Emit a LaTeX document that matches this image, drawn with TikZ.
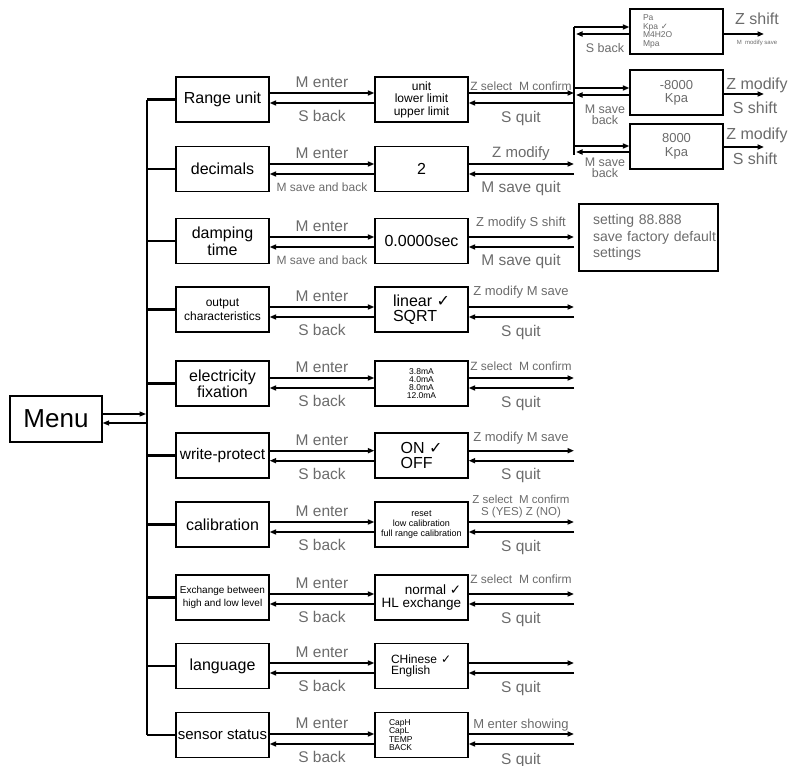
\documentclass[tikz,border=0pt]{standalone}
\usepackage{fontspec}
\setmainfont{Liberation Sans}
\newfontfamily\symf{DejaVu Sans}
\usetikzlibrary{arrows.meta}
\definecolor{lg}{gray}{0.42}
\newcommand\fsz[2]{\fontsize{#1pt}{#2pt}\selectfont}
\newcommand\chk{{\symf ✓}}
\begin{document}
\begin{tikzpicture}[x=1pt,y=-1pt,
 box/.style={draw, line width=1.3pt, minimum width=93pt, minimum height=45pt, inner sep=1pt, align=center},
 arr/.style={line width=1.7pt, -{Triangle[length=6.5pt,width=5pt]}},
 busl/.style={line width=2.3pt},
 lbl/.style={text=lg, inner sep=0pt, anchor=base},
 lblc/.style={text=lg, inner sep=0pt, align=center},
 lbig/.style={lbl, font=\fsz{15.5}{18}},
 lsm/.style={lbl, font=\fsz{12}{14}},
 lmd/.style={lbl, font=\fsz{13}{15}},
]
\useasboundingbox (0,0) rectangle (788,766);

% menu
\node[box, minimum width=92pt, minimum height=46pt, font=\fsz{26}{30}] (menu) at (56,419) {Menu};

% first column
\node[box, font=\fsz{16}{18}] (a1) at (222.5,99.5) {Range unit};
\node[box, font=\fsz{16}{18}] (a2) at (222.5,169) {decimals};
\node[box, font=\fsz{16}{17}] (a3) at (222.5,241) {damping\\time};
\node[box, font=\fsz{12}{14}] (a4) at (222.5,309.5) {output\\characteristics};
\node[box, font=\fsz{16}{16}] (a5) at (222.5,383.5) {electricity\\fixation};
\node[box, font=\fsz{15.5}{18}] (a6) at (222.5,455.5) {write-protect};
\node[box, font=\fsz{16}{18}] (a7) at (222.5,524.5) {calibration};
\node[box, font=\fsz{10}{12.5}] (a8) at (222.5,597.5) {Exchange between\\high and low level};
\node[box, font=\fsz{16}{18}] (a9) at (222.5,666) {language};
\node[box, font=\fsz{15}{18}] (a10) at (222.5,735) {sensor status};

% second column
\node[box, font=\fsz{12}{12.5}] (b1) at (421.5,99.5) {unit\\lower limit\\upper limit};
\node[box, font=\fsz{16}{18}] (b2) at (421.5,169) {2};
\node[box, font=\fsz{16}{18}] (b3) at (421.5,241) {0.0000sec};
\node[box, align=left, font=\fsz{16}{15}] (b4) at (421.5,309.5) {linear \chk\\SQRT};
\node[box, font=\fsz{8.5}{8}] (b5) at (421.5,383.5) {3.8mA\\4.0mA\\8.0mA\\12.0mA};
\node[box, align=left, font=\fsz{16}{15}] (b6) at (421.5,455.5) {ON \chk\\OFF};
\node[box, font=\fsz{9}{10}] (b7) at (421.5,524.5) {reset\\low calibration\\full range calibration};
\node[box, align=right, font=\fsz{13.5}{13}] (b8) at (421.5,597.5) {normal \chk\\HL exchange};
\node[box, align=left, text width=61pt, inner xsep=16pt, font=\fsz{12}{11.5}] (b9) at (421.5,666) {CHinese \chk\\English};
\node[box, align=left, text width=65pt, inner xsep=14pt, font=\fsz{8.5}{8.3}] (b10) at (421.5,735) {CapH\\CapL\\TEMP\\BACK};

% sub boxes of range unit
\node[box, align=left, text width=67pt, inner xsep=13pt, text=lg, font=\fsz{8.5}{8.5}] (s1) at (676.5,31.5) {Pa\\Kpa \chk\\M4H2O\\Mpa};
\node[box, text=lg, font=\fsz{13}{13}] (s2) at (676.5,92.5) {-8000\\Kpa};
\node[box, text=lg, font=\fsz{13}{14}] (s3) at (676.5,146.5) {8000\\Kpa};

% setting box
\node[draw, line width=1.3pt, minimum height=67pt, align=left, text width=111pt, inner xsep=14pt, inner ysep=0pt, text=lg, font=\fsz{14}{16.5}] (set) at (648.5,237.5) {\mbox{setting 88.888}\\\mbox{save factory default}\\\mbox{settings}};

% main bus
\coordinate (bt) at (147,99.5);
\coordinate (bb) at (147,735);
\draw[busl] (bt) -- (bb);
\foreach \i in {1,...,10} \draw[busl] (a\i.west -| bt) -- (a\i.west);

% menu arrows
\coordinate (m1) at (146,414);
\coordinate (m2) at (146,423);
\draw[arr, line width=1.2pt] (menu.east |- m1) -- (m1);
\draw[arr, line width=1.2pt] (m2) -- (menu.east |- m2);

% row arrows
\foreach \i/\ym in {1/98,2/169,3/242,4/312,5/383,6/455.7,7/527,8/599,9/668,10/739} {
  \coordinate (t\i) at (574,{\ym-5});
  \coordinate (u\i) at (574,{\ym+5});
  \draw[arr] (a\i.east |- t\i) -- (b\i.west |- t\i);
  \draw[arr] (b\i.west |- u\i) -- (a\i.east |- u\i);
  \draw[arr] (b\i.east |- t\i) -- (t\i);
  \draw[arr] (u\i) -- (b\i.east |- u\i);
}

% left labels
\foreach \ym in {98,169,242,312,383,455.7,527,599,668,739} \node[lbig] at (322,{\ym-10.5}) {M enter};
\foreach \ym in {98,312,383,455.7,527,599,668,739} \node[lbig] at (322,{\ym+23.5}) {S back};
\foreach \ym in {169,242} \node[lsm] at (322,{\ym+22.5}) {M save and back};

% right labels
\foreach \ym in {98,312,383,455.7,527,599,668} \node[lbig] at (521,{\ym+24}) {S quit};
\node[lbig] at (521,764) {S quit};
\foreach \ym in {169,242} \node[lbig] at (521,{\ym+23}) {M save quit};
\node[lsm] at (521,90) {Z select\ \ M confirm};
\node[lbl, font=\fsz{15}{18}] at (521,157.5) {Z modify};
\node[lmd] at (521,226) {Z modify S shift};
\node[lmd] at (521,295) {Z modify M save};
\node[lsm] at (521,370) {Z select\ \ M confirm};
\node[lmd] at (521,441) {Z modify M save};
\node[lbl, font=\fsz{11.5}{13}] at (521,503.5) {Z select\ \ M confirm};
\node[lbl, font=\fsz{11.5}{13}] at (521,515) {S (YES) Z (NO)};
\node[lsm] at (521,583) {Z select\ \ M confirm};
\node[lmd] at (521,728) {M enter showing};

% second bus and sub-box arrows
\coordinate (v1t) at (574,27);
\coordinate (vb) at (574,155);
\draw[busl] (v1t) -- (vb);
\coordinate (v1b) at (576,34);
\coordinate (v2t) at (574,88);
\coordinate (v2b) at (576,95);
\coordinate (v3t) at (574,146);
\coordinate (v3b) at (576,152);
\draw[arr] (v1t) -- (s1.west |- v1t);
\draw[arr] (s1.west |- v1b) -- (v1b);
\draw[arr] (v2t) -- (s2.west |- v2t);
\draw[arr] (s2.west |- v2b) -- (v2b);
\draw[arr] (v3t) -- (s3.west |- v3t);
\draw[arr] (s3.west |- v3b) -- (v3b);

\coordinate (w1) at (764,34);
\coordinate (w2) at (764,94);
\coordinate (w3) at (764,147);
\draw[arr] (s1.east |- w1) -- (w1);
\draw[arr] (s2.east |- w2) -- (w2);
\draw[arr] (s3.east |- w3) -- (w3);

% sub-box labels
\node[lblc, font=\fsz{12.5}{11}] at (605,48) {S back};
\node[lblc, font=\fsz{12.5}{11}] at (605,115) {M save\\back};
\node[lblc, font=\fsz{12.5}{11}] at (605,168) {M save\\back};
\node[lblc, font=\fsz{16}{18}] at (757,19) {Z shift};
\node[lblc, font=\fsz{6}{7}] at (757,43) {M\ \ modify save};
\node[lblc, font=\fsz{16}{18}] at (757,85) {Z modify};
\node[lblc, font=\fsz{16}{18}] at (755,108) {S shift};
\node[lblc, font=\fsz{16}{18}] at (757,135) {Z modify};
\node[lblc, font=\fsz{16}{18}] at (755,159) {S shift};
\end{tikzpicture}
\end{document}
